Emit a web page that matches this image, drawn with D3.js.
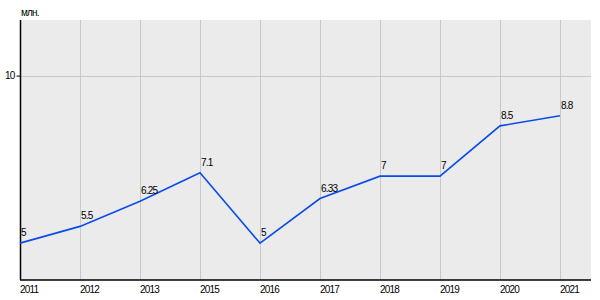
<!DOCTYPE html>
<meta charset="utf-8">
<style>
  body { margin: 0; background: #fff; }
  text { font-family: "Liberation Sans", Arial, sans-serif; font-size: 10px; fill: #000; letter-spacing: -0.8px; }
</style>
<body>
<script src="https://d3js.org/d3.v7.min.js"></script>
<script>
var years = ['2011', '2012', '2013', '2015', '2016', '2017', '2018', '2019', '2020', '2021'];
var values = [5, 5.5, 6.25, 7.1, 5, 6.33, 7, 7, 8.5, 8.8];
var valueLabels = ['5', '5.5', '6.25', '7.1', '5', '6.33', '7', '7', '8.5', '8.8'];
var yTicks = [10];
var unit = 'млн.';

var width = 600, height = 300;
var plotLeft = 20, plotRight = 591, plotTop = 20, plotBottom = 280;

var svg = d3.select('body').append('svg')
    .attr('width', width)
    .attr('height', height);

// categories sit on gridlines 60px apart, leaving space on the right
var x = d3.scalePoint()
    .domain(years)
    .range([plotLeft, plotLeft + 60 * (years.length - 1)]);

var y = d3.scaleLinear()
    .domain([3.9, 11.66])
    .range([plotBottom, plotTop]);

svg.append('rect')
    .attr('x', plotLeft).attr('y', plotTop)
    .attr('width', plotRight - plotLeft).attr('height', plotBottom - plotTop)
    .attr('fill', '#ebebeb');

// vertical gridlines
svg.append('g').selectAll('line')
    .data(years.slice(1))
    .enter().append('line')
    .attr('x1', function (d) { return x(d) + 0.5; })
    .attr('x2', function (d) { return x(d) + 0.5; })
    .attr('y1', plotTop).attr('y2', plotBottom)
    .attr('stroke', '#c8c8c8');

// horizontal gridline(s)
svg.append('g').selectAll('line')
    .data(yTicks)
    .enter().append('line')
    .attr('x1', plotLeft).attr('x2', plotRight)
    .attr('y1', function (d) { return Math.round(y(d)) + 0.5; })
    .attr('y2', function (d) { return Math.round(y(d)) + 0.5; })
    .attr('stroke', '#c8c8c8');

// y axis
var yAxis = svg.append('g')
    .attr('transform', 'translate(' + (plotLeft + 0.5) + ',0)')
    .call(d3.axisLeft(y).tickValues(yTicks).tickSize(4).tickPadding(2));
yAxis.select('.domain').attr('d', 'M0,' + plotTop + 'V' + plotBottom).attr('stroke', '#000').attr('stroke-width', 1.5);
yAxis.selectAll('text').style('font-size', '10px').attr('font-family', null);

// x axis
svg.append('line')
    .attr('x1', plotLeft).attr('x2', plotRight)
    .attr('y1', plotBottom).attr('y2', plotBottom)
    .attr('stroke', '#000').attr('stroke-width', 1.5);

svg.append('g').selectAll('text')
    .data(years)
    .enter().append('text')
    .attr('x', function (d) { return x(d); })
    .attr('y', 293)
    .text(function (d) { return d; });

svg.append('text')
    .attr('x', plotLeft + 1)
    .attr('y', 16)
    .text(unit);

var line = d3.line()
    .x(function (d, i) { return x(years[i]); })
    .y(function (d) { return y(d); });

svg.append('path')
    .datum(values)
    .attr('d', line)
    .attr('fill', 'none')
    .attr('stroke', '#0a4ce8')
    .attr('stroke-width', 1.6);

svg.append('g').selectAll('text')
    .data(values)
    .enter().append('text')
    .attr('x', function (d, i) { return x(years[i]) + 1; })
    .attr('y', function (d) { return y(d) - 7; })
    .text(function (d, i) { return valueLabels[i]; });
</script>
</body>
